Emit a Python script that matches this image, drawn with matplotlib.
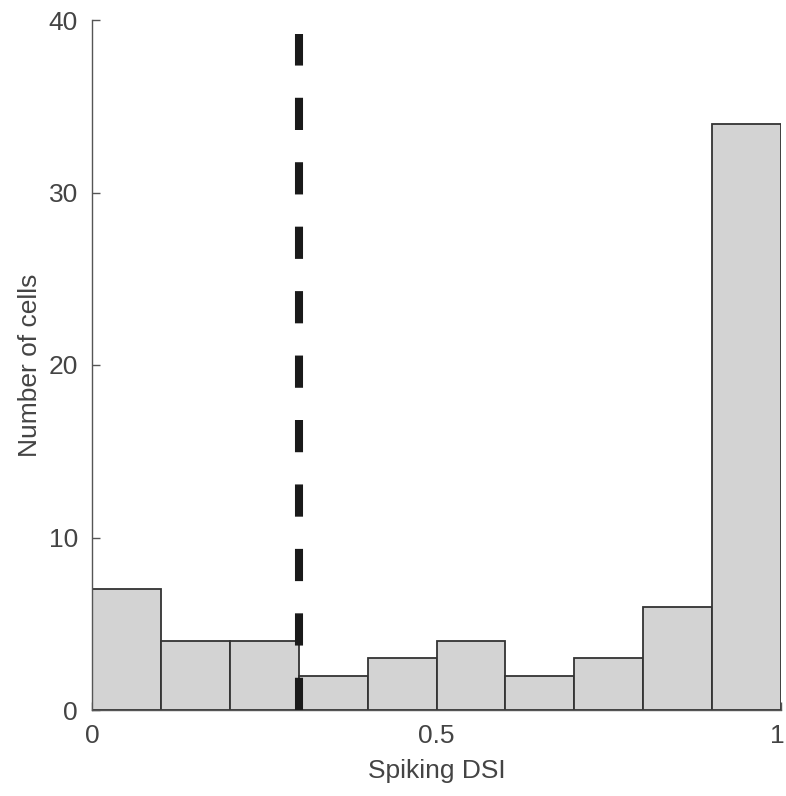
import numpy as np
import matplotlib
matplotlib.use('Agg')
import matplotlib.pyplot as plt
import matplotlib.transforms as mtransforms

plt.rcParams['font.family'] = ['Liberation Sans', 'DejaVu Sans']

# histogram of spiking DSI
bin_edges = [0, 0.1, 0.2, 0.3, 0.4, 0.5, 0.6, 0.7, 0.8, 0.9, 1.0]
counts = [7, 4, 4, 2, 3, 4, 2, 3, 6, 34]
threshold = 0.3
line_top = 39.2

fig = plt.figure(figsize=(7.86, 7.96), dpi=100)
ax = fig.add_axes([92/786, 86/796, 689/786, 690/796])

edges = np.array(bin_edges)
ax.bar(edges[:-1], counts, width=np.diff(edges), align='edge',
       facecolor='#d3d3d3', edgecolor='#333333', linewidth=1.3, zorder=2)

ax.plot([threshold, threshold], [0, line_top], color='#1a1a1a',
        linewidth=5.8, dashes=(4, 4), solid_capstyle='butt',
        dash_capstyle='butt', zorder=3)

ax.set_xlim(0, 1)
ax.set_ylim(0, 40)
ax.set_xticks([0, 0.5, 1])
ax.set_xticklabels(['0', '0.5', '1'])
ax.set_yticks([0, 10, 20, 30, 40])

gray = '#555555'
for s in ['top', 'right']:
    ax.spines[s].set_visible(False)
for s in ['left', 'bottom']:
    ax.spines[s].set_color(gray)
    ax.spines[s].set_linewidth(1.0)
ax.tick_params(direction='in', length=6, width=1.0, color=gray,
               labelcolor='#444444', labelsize=19, pad=10)

# keep the "1" inside the canvas
last = ax.get_xticklabels()[-1]
last.set_transform(last.get_transform() +
                   mtransforms.ScaledTranslation(-4/100, 0, fig.dpi_scale_trans))

ax.set_xlabel('Spiking DSI', fontsize=19, color='#444444', labelpad=8)
ax.set_ylabel('Number of cells', fontsize=19, color='#444444', labelpad=5)

fig.savefig('out.png', dpi=100)
